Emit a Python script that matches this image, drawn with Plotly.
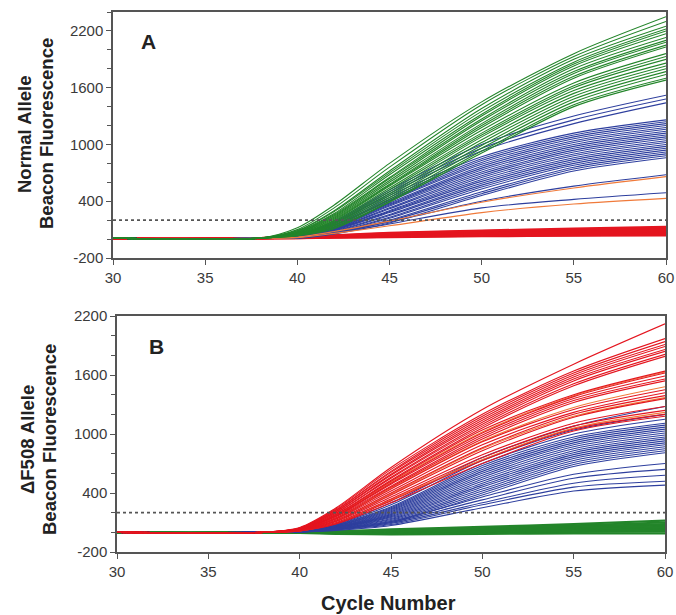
import plotly.graph_objects as go

# ---------------- data ----------------
cycles = [30, 34, 38, 40, 42, 45, 50, 55, 60]

# Panel A (Normal allele probe)
green_a = [
    [10, 0, 10, 120, 360, 800, 1450, 1960, 2350],
    [10, 0, 10, 100, 330, 760, 1420, 1930, 2300],
    [10, 0, 10, 90, 300, 720, 1380, 1900, 2250],
    [10, 0, 10, 85, 290, 700, 1350, 1870, 2220],
    [10, 0, 10, 80, 270, 680, 1320, 1850, 2200],
    [10, 0, 10, 75, 260, 650, 1300, 1830, 2170],
    [10, 0, 10, 70, 250, 640, 1270, 1800, 2130],
    [10, 0, 10, 70, 240, 620, 1250, 1770, 2100],
    [10, 0, 10, 65, 230, 600, 1220, 1750, 2080],
    [10, 0, 10, 60, 220, 580, 1200, 1720, 2050],
    [10, 0, 10, 60, 210, 570, 1180, 1700, 2030],
    [10, 0, 10, 55, 200, 560, 1150, 1650, 1960],
    [10, 0, 10, 55, 190, 540, 1120, 1620, 1930],
    [10, 0, 10, 50, 180, 520, 1100, 1600, 1900],
    [10, 0, 10, 50, 170, 500, 1080, 1570, 1860],
    [10, 0, 10, 45, 160, 480, 1050, 1540, 1830],
    [10, 0, 10, 45, 150, 460, 1020, 1510, 1800],
    [10, 0, 10, 40, 140, 440, 990, 1480, 1770],
    [10, 0, 10, 40, 130, 420, 960, 1450, 1740],
    [10, 0, 10, 35, 120, 400, 930, 1420, 1700],
    [10, 0, 10, 35, 110, 390, 910, 1400, 1680],
]
blue_a = [
    [10, 0, 10, 40, 190, 520, 1000, 1300, 1520],
    [10, 0, 10, 40, 180, 500, 960, 1260, 1480],
    [10, 0, 10, 35, 170, 480, 930, 1220, 1440],
    [10, 0, 10, 35, 170, 460, 870, 1120, 1260],
    [10, 0, 10, 30, 160, 440, 850, 1100, 1240],
    [10, 0, 10, 30, 150, 420, 830, 1080, 1220],
    [10, 0, 10, 30, 145, 410, 810, 1060, 1200],
    [10, 0, 10, 28, 140, 400, 790, 1040, 1180],
    [10, 0, 10, 25, 130, 380, 770, 1020, 1160],
    [10, 0, 10, 25, 125, 370, 750, 1000, 1140],
    [10, 0, 10, 25, 120, 360, 730, 980, 1120],
    [10, 0, 10, 22, 115, 350, 710, 960, 1100],
    [10, 0, 10, 20, 110, 330, 690, 940, 1080],
    [10, 0, 10, 20, 105, 320, 670, 920, 1060],
    [10, 0, 10, 20, 100, 300, 650, 900, 1040],
    [10, 0, 10, 18, 95, 290, 630, 880, 1020],
    [10, 0, 10, 18, 90, 280, 610, 860, 1000],
    [10, 0, 10, 15, 85, 260, 590, 840, 980],
    [10, 0, 10, 15, 80, 250, 570, 820, 960],
    [10, 0, 10, 15, 75, 230, 550, 800, 940],
    [10, 0, 10, 12, 70, 220, 530, 780, 920],
    [10, 0, 10, 12, 65, 200, 500, 760, 900],
    [10, 0, 10, 12, 60, 190, 480, 740, 880],
    [10, 0, 10, 10, 55, 170, 460, 720, 860],
    [10, 0, 10, 15, 70, 180, 400, 560, 680],
    [10, 0, 10, 15, 60, 160, 330, 420, 490],
]
orange_a = [
    [10, 0, 10, 20, 80, 190, 390, 540, 660],
    [10, 0, 10, 15, 60, 140, 280, 370, 430],
]
red_a = [
    [8, 2, 10, 10, 15, 20, 30, 35, 40],
    [8, 2, 10, 11, 17, 25, 35, 42, 50],
    [8, 2, 10, 12, 20, 30, 40, 50, 60],
    [8, 2, 10, 13, 22, 35, 48, 58, 70],
    [8, 2, 10, 14, 25, 40, 55, 66, 80],
    [8, 2, 10, 15, 28, 45, 62, 75, 90],
    [8, 2, 10, 16, 30, 50, 70, 85, 100],
    [8, 2, 10, 18, 33, 55, 77, 95, 110],
    [8, 2, 10, 19, 36, 60, 84, 102, 120],
    [8, 2, 10, 20, 40, 65, 90, 110, 130],
]

# Panel B (deltaF508 allele probe)
red_b = [
    [0, -5, 0, 50, 250, 660, 1250, 1710, 2120],
    [0, -5, 0, 45, 240, 640, 1200, 1640, 1970],
    [0, -5, 0, 45, 230, 620, 1180, 1620, 1940],
    [0, -5, 0, 40, 225, 610, 1160, 1600, 1910],
    [0, -5, 0, 40, 215, 590, 1140, 1580, 1890],
    [0, -5, 0, 38, 210, 580, 1120, 1560, 1860],
    [0, -5, 0, 35, 200, 560, 1100, 1540, 1840],
    [0, -5, 0, 35, 195, 550, 1080, 1510, 1810],
    [0, -5, 0, 32, 185, 530, 1060, 1490, 1790],
    [0, -5, 0, 30, 180, 520, 1040, 1400, 1640],
    [0, -5, 0, 30, 170, 500, 1010, 1380, 1620],
    [0, -5, 0, 28, 165, 490, 990, 1360, 1590],
    [0, -5, 0, 25, 160, 470, 970, 1340, 1560],
    [0, -5, 0, 25, 150, 460, 950, 1320, 1540],
    [0, -5, 0, 22, 140, 440, 920, 1250, 1450],
    [0, -5, 0, 20, 135, 420, 890, 1220, 1420],
    [0, -5, 0, 20, 125, 400, 860, 1200, 1390],
    [0, -5, 0, 18, 115, 380, 830, 1170, 1360],
    [0, -5, 0, 18, 110, 360, 790, 1110, 1280],
    [0, -5, 0, 15, 100, 340, 760, 1080, 1240],
    [0, -5, 0, 15, 90, 320, 730, 1050, 1200],
    [0, -5, 0, 15, 85, 300, 700, 1030, 1180],
]
orange_b = [
    [0, -5, 0, 30, 175, 510, 1020, 1390, 1630],
    [0, -5, 0, 22, 145, 450, 930, 1270, 1480],
    [0, -5, 0, 18, 120, 390, 850, 1180, 1370],
    [0, -5, 0, 15, 95, 330, 740, 1060, 1220],
]
blue_b = [
    [0, -5, 0, 20, 90, 300, 760, 1080, 1280],
    [0, -5, 0, 18, 85, 280, 730, 1040, 1200],
    [0, -5, 0, 18, 80, 260, 700, 1000, 1150],
    [0, -5, 0, 15, 75, 250, 680, 970, 1110],
    [0, -5, 0, 15, 70, 240, 660, 950, 1090],
    [0, -5, 0, 15, 68, 230, 640, 930, 1070],
    [0, -5, 0, 12, 65, 220, 620, 910, 1050],
    [0, -5, 0, 12, 60, 210, 600, 890, 1030],
    [0, -5, 0, 12, 58, 200, 580, 870, 1010],
    [0, -5, 0, 10, 55, 190, 560, 850, 990],
    [0, -5, 0, 10, 52, 180, 540, 830, 970],
    [0, -5, 0, 10, 50, 170, 520, 810, 950],
    [0, -5, 0, 10, 48, 160, 500, 790, 930],
    [0, -5, 0, 8, 45, 150, 480, 770, 910],
    [0, -5, 0, 8, 42, 140, 460, 750, 890],
    [0, -5, 0, 8, 40, 130, 440, 730, 870],
    [0, -5, 0, 5, 38, 120, 420, 710, 850],
    [0, -5, 0, 5, 35, 110, 400, 690, 830],
    [0, -5, 0, 5, 32, 100, 380, 670, 810],
    [0, -5, 0, 5, 35, 110, 360, 590, 700],
    [0, -5, 0, 5, 30, 100, 330, 550, 640],
    [0, -5, 0, 5, 28, 90, 300, 500, 580],
    [0, -5, 0, 5, 25, 80, 280, 460, 520],
    [0, -5, 0, 5, 20, 70, 250, 420, 480],
]
green_b = [
    [0, -5, 0, -5, -15, -20, -15, -10, -10],
    [0, -5, 0, -3, -10, -12, -5, 5, 10],
    [0, -5, 0, 0, -5, -5, 5, 15, 25],
    [0, -5, 0, 0, -3, 0, 12, 25, 40],
    [0, -5, 0, 2, 0, 5, 20, 35, 55],
    [0, -5, 0, 3, 3, 10, 28, 48, 70],
    [0, -5, 0, 4, 5, 15, 35, 60, 85],
    [0, -5, 0, 5, 8, 22, 45, 72, 100],
    [0, -5, 0, 6, 10, 30, 55, 85, 120],
]

threshold = [200, 200]
threshold_x = [30, 60]

x_ticks = [30, 35, 40, 45, 50, 55, 60]
y_ticks = [-200, 400, 1000, 1600, 2200]
y_ticktext = ["-200", "400", "1000", "1600", "2200"]

GREEN = "#23852a"
BLUE = "#2e3f9e"
RED = "#e4151f"
ORANGE = "#f07a3a"

# ---------------- figure ----------------
W, H = 676, 615
PL, PR, PT, PB = 113, 666, 12, 552   # plot region in pixels

fig = go.Figure()

def add_group(rows, color, width, panel):
    for r in rows:
        fig.add_trace(go.Scatter(
            x=cycles, y=r, mode="lines",
            line=dict(color=color, width=width, shape="spline", smoothing=0.8),
            xaxis="x" if panel == 1 else "x2", yaxis="y" if panel == 1 else "y2",
            showlegend=False, hoverinfo="skip"))

# Panel A (top)
add_group(red_a, RED, 2.2, 1)
add_group(blue_a, BLUE, 1.1, 1)
add_group(orange_a, ORANGE, 1.1, 1)
add_group(green_a, GREEN, 1.1, 1)
fig.add_trace(go.Scatter(x=threshold_x, y=threshold, mode="lines",
                         line=dict(color="#555555", width=1.6, dash="dot"),
                         xaxis="x", yaxis="y", showlegend=False, hoverinfo="skip"))

# Panel B (bottom)
add_group(green_b, GREEN, 2.2, 2)
add_group(blue_b, BLUE, 1.1, 2)
add_group(orange_b, ORANGE, 1.1, 2)
add_group(red_b, RED, 1.1, 2)
fig.add_trace(go.Scatter(x=threshold_x, y=threshold, mode="lines",
                         line=dict(color="#555555", width=1.6, dash="dot"),
                         xaxis="x2", yaxis="y2", showlegend=False, hoverinfo="skip"))

FONT = "Liberation Sans, Arial, sans-serif"
tickfont = dict(family=FONT, size=15, color="#3a3a3a")
axis_common = dict(showline=True, linecolor="#555555", linewidth=1.5, mirror=True,
                   showgrid=False, zeroline=False, ticks="outside", ticklen=5,
                   tickcolor="#555555", tickfont=tickfont, automargin=False)
minor = dict(dtick=200, tick0=-200, ticks="outside", ticklen=4, tickcolor="#555555")

def xdom(a, b):
    return [(a - PL) / (PR - PL), (b - PL) / (PR - PL)]

def ydom(top, bottom):
    return [(PB - bottom) / (PB - PT), (PB - top) / (PB - PT)]

fig.update_layout(
    width=W, height=H,
    margin=dict(l=PL, r=W - PR, t=PT, b=H - PB, pad=0, autoexpand=False),
    paper_bgcolor="white", plot_bgcolor="white",
    xaxis=dict(domain=xdom(113, 666), range=[30, 60], tickvals=x_ticks, anchor="y", **axis_common),
    yaxis=dict(domain=ydom(12, 258), range=[-200, 2400], tickvals=y_ticks, ticktext=y_ticktext,
               anchor="x", minor=minor, **axis_common),
    xaxis2=dict(domain=xdom(117, 665), range=[30, 60], tickvals=x_ticks, anchor="y2", **axis_common),
    yaxis2=dict(domain=ydom(316, 552), range=[-200, 2200], tickvals=y_ticks, ticktext=y_ticktext,
                anchor="x2", minor=minor, **axis_common),
)

def add_px_text(text, px, py, size, angle=0):
    fig.add_annotation(text=text, x=(px - PL) / (PR - PL), y=(PB - py) / (PB - PT),
                       xref="paper", yref="paper", xanchor="center", yanchor="middle",
                       showarrow=False, textangle=angle,
                       font=dict(family=FONT, size=size, color="#222222"))

add_px_text("<b>Normal Allele</b>", 24, 134, 18.5, -90)
add_px_text("<b>Beacon Fluorescence</b>", 46, 134, 18.5, -90)
add_px_text("<b>ΔF508 Allele</b>", 27, 440, 18.5, -90)
add_px_text("<b>Beacon Fluorescence</b>", 49, 440, 18.5, -90)
add_px_text("<b>Cycle Number</b>", 388, 603, 20)
add_px_text("<b>A</b>", 148, 41, 21)
add_px_text("<b>B</b>", 156, 346, 21)

# remove the default page margin so the figure fills the 676x615 window exactly
fig.write_html("out.html",
               config={"displayModeBar": False},
               post_script="document.body.style.margin='0px';document.body.style.overflow='hidden';")
